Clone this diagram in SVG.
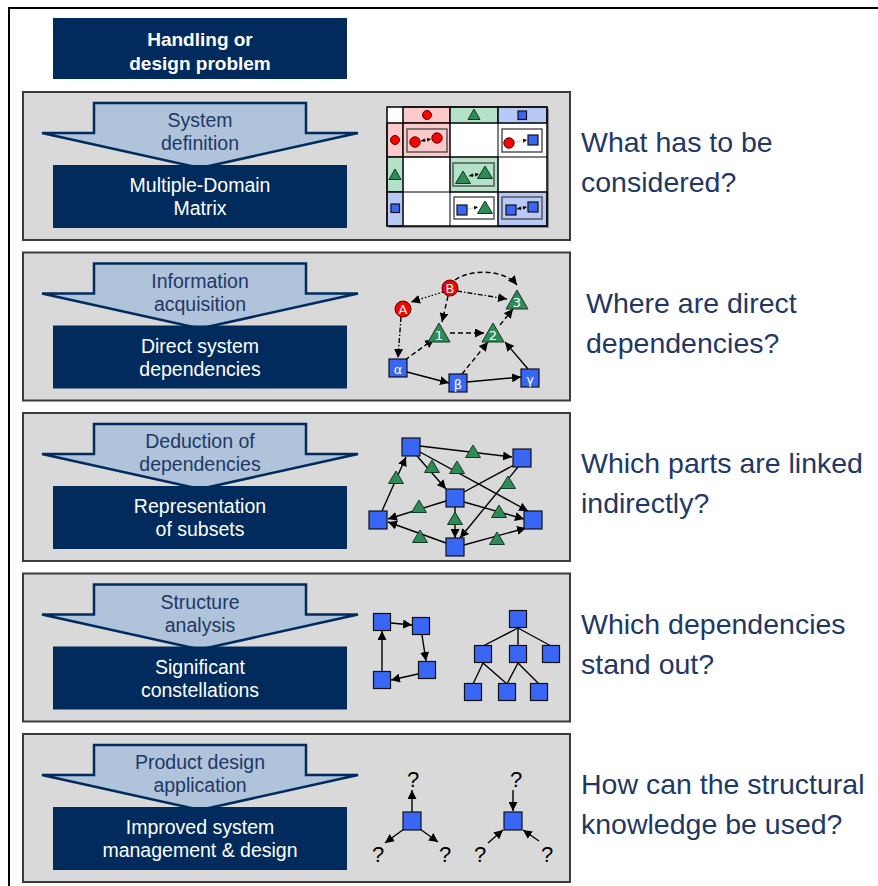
<svg xmlns="http://www.w3.org/2000/svg" width="878" height="886" viewBox="0 0 878 886">
  <style>
    .panel { fill: #d9d9d9; stroke: #3c3c3c; stroke-width: 2; }
    .flow { fill: #afc3db; stroke: #002b5c; stroke-width: 2.5; stroke-linejoin: miter; }
    .box { fill: #002b5c; }
    .lbl { font-family: "Liberation Sans", Arial, sans-serif; font-size: 19.5px; text-anchor: middle; }
    .step { fill: #1f3864; }
    .res { fill: #ffffff; }
    .head { font-weight: bold; font-size: 19px; fill: #ffffff; }
    .q { font-family: "Liberation Sans", Arial, sans-serif; font-size: 28.5px; fill: #1f3864; }
    .red { fill: #ff0000; stroke: #5a0000; stroke-width: 1; }
    .grn { fill: #2e8b57; stroke: #123a22; stroke-width: 1; }
    .blu { fill: #3a66f5; stroke: #111111; stroke-width: 1.2; }
    .ntx { font-family: "DejaVu Sans", "Liberation Sans", sans-serif; font-size: 13px; fill: #ffffff; text-anchor: middle; }
    .e { fill: none; stroke: #000000; stroke-width: 1.4; }
    .arr { marker-end: url(#ah); }
    .dash { stroke-dasharray: 5 3; }
    .dot { stroke-dasharray: 1.5 2; }
    .dd { stroke-dasharray: 5 2 1.5 2; }
    .cell { stroke: #000000; stroke-width: 1; }
    .inner { stroke: #555555; stroke-width: 1.5; }
    .qm { font-family: "Liberation Sans", Arial, sans-serif; font-size: 22px; fill: #000000; text-anchor: middle; }
  </style>
  <defs>
    <marker id="ah" viewBox="0 0 10 10" refX="10" refY="5" markerWidth="9" markerHeight="9" markerUnits="userSpaceOnUse" orient="auto">
      <path d="M0,0 L10,5 L0,10 Z" fill="#000000"/>
    </marker>
    <marker id="ahs" viewBox="0 0 10 10" refX="10" refY="5" markerWidth="4" markerHeight="4" markerUnits="userSpaceOnUse" orient="auto-start-reverse">
      <path d="M0,0 L10,5 L0,10 Z" fill="#000000"/>
    </marker>
    <path id="tri" d="M0,-11 L11,8 L-11,8 Z"/>
    <path id="tris" d="M0,-7 L7.5,5.5 L-7.5,5.5 Z"/>
    <path id="trim" d="M0,-6 L6,4.5 L-6,4.5 Z"/>
  </defs>

  <rect width="878" height="886" fill="#ffffff"/>
  <!-- outer frame -->
  <path d="M9,886 V8 H878" fill="none" stroke="#000000" stroke-width="2"/>

  <!-- top problem box -->
  <g id="problem">
    <rect class="box" x="53" y="18" width="294" height="61"/>
    <text class="lbl head" x="200" y="46">Handling or</text>
    <text class="lbl head" x="200" y="70">design problem</text>
  </g>

  <!-- step 1 -->
  <g id="step1">
    <rect class="panel" x="23" y="92" width="547" height="148"/>
    <path class="flow" d="M94,103 H306 V133 H358 L200,168 L42,133 H94 Z"/>
    <text class="lbl step" x="200" y="127">System</text>
    <text class="lbl step" x="200" y="150">definition</text>
    <rect class="box" x="53" y="165" width="294" height="63"/>
    <text class="lbl res" x="200" y="192">Multiple-Domain</text>
    <text class="lbl res" x="200" y="215">Matrix</text>
    <text class="q" x="581" y="152">What has to be</text>
    <text class="q" x="581" y="192">considered?</text>
  </g>

  <!-- step 2 -->
  <g id="step2" transform="translate(0,160.5)">
    <rect class="panel" x="23" y="92" width="547" height="148"/>
    <path class="flow" d="M94,103 H306 V133 H358 L200,168 L42,133 H94 Z"/>
    <text class="lbl step" x="200" y="127">Information</text>
    <text class="lbl step" x="200" y="150">acquisition</text>
    <rect class="box" x="53" y="165" width="294" height="63"/>
    <text class="lbl res" x="200" y="192">Direct system</text>
    <text class="lbl res" x="200" y="215">dependencies</text>
    <text class="q" x="586" y="152">Where are direct</text>
    <text class="q" x="586" y="192">dependencies?</text>
  </g>

  <!-- step 3 -->
  <g id="step3" transform="translate(0,321)">
    <rect class="panel" x="23" y="92" width="547" height="148"/>
    <path class="flow" d="M94,103 H306 V133 H358 L200,168 L42,133 H94 Z"/>
    <text class="lbl step" x="200" y="127">Deduction of</text>
    <text class="lbl step" x="200" y="150">dependencies</text>
    <rect class="box" x="53" y="165" width="294" height="63"/>
    <text class="lbl res" x="200" y="192">Representation</text>
    <text class="lbl res" x="200" y="215">of subsets</text>
    <text class="q" x="581" y="152">Which parts are linked</text>
    <text class="q" x="581" y="192">indirectly?</text>
  </g>

  <!-- step 4 -->
  <g id="step4" transform="translate(0,481.5)">
    <rect class="panel" x="23" y="92" width="547" height="148"/>
    <path class="flow" d="M94,103 H306 V133 H358 L200,168 L42,133 H94 Z"/>
    <text class="lbl step" x="200" y="127">Structure</text>
    <text class="lbl step" x="200" y="150">analysis</text>
    <rect class="box" x="53" y="165" width="294" height="63"/>
    <text class="lbl res" x="200" y="192">Significant</text>
    <text class="lbl res" x="200" y="215">constellations</text>
    <text class="q" x="581" y="152">Which dependencies</text>
    <text class="q" x="581" y="192">stand out?</text>
  </g>

  <!-- step 5 -->
  <g id="step5" transform="translate(0,642)">
    <rect class="panel" x="23" y="92" width="547" height="148"/>
    <path class="flow" d="M94,103 H306 V133 H358 L200,168 L42,133 H94 Z"/>
    <text class="lbl step" x="200" y="127">Product design</text>
    <text class="lbl step" x="200" y="150">application</text>
    <rect class="box" x="53" y="165" width="294" height="63"/>
    <text class="lbl res" x="200" y="192">Improved system</text>
    <text class="lbl res" x="200" y="215">management &amp; design</text>
    <text class="q" x="581" y="152">How can the structural</text>
    <text class="q" x="581" y="192">knowledge be used?</text>
  </g>

  <!-- multiple-domain matrix -->
  <g id="mdm">
    <rect x="389" y="109" width="160" height="119" fill="#8c8c8c"/>
    <rect x="387" y="107" width="160" height="119" fill="#ffffff"/>
    <rect class="cell" x="403" y="107" width="47" height="16" fill="#fccaca"/>
    <rect class="cell" x="450" y="107" width="48" height="16" fill="#b4e2c9"/>
    <rect class="cell" x="498" y="107" width="49" height="16" fill="#b9c9f7"/>
    <rect class="cell" x="387" y="123" width="16" height="34" fill="#fccaca"/>
    <rect class="cell" x="387" y="157" width="16" height="35" fill="#b4e2c9"/>
    <rect class="cell" x="387" y="192" width="16" height="34" fill="#b9c9f7"/>
    <rect class="cell" x="403" y="123" width="47" height="34" fill="#fccaca"/>
    <rect class="cell" x="450" y="157" width="48" height="35" fill="#b4e2c9"/>
    <rect class="cell" x="498" y="192" width="49" height="34" fill="#b9c9f7"/>
    <rect x="387" y="107" width="160" height="119" fill="none" stroke="#000000" stroke-width="1.5"/>
    <path d="M387,123 H547 M387,157 H547 M387,192 H547 M403,107 V226 M450,107 V226 M498,107 V226" stroke="#000000" stroke-width="1" fill="none"/>
    <!-- headers -->
    <circle class="red" cx="427" cy="115" r="4.5"/>
    <use href="#trim" x="474" y="115" class="grn"/>
    <rect class="blu" x="518" y="111" width="8.5" height="8.5"/>
    <circle class="red" cx="395" cy="140" r="4.5"/>
    <use href="#trim" x="395" y="175" class="grn"/>
    <rect class="blu" x="391" y="204" width="8.5" height="8.5"/>
    <!-- diagonal and cross cells -->
    <rect class="inner" x="407" y="129" width="40" height="23" fill="#fccaca"/>
    <circle class="red" cx="415" cy="142" r="5.2"/>
    <circle class="red" cx="437" cy="138" r="5.2"/>
    <line x1="421" y1="141" x2="431" y2="139" stroke="#000" stroke-width="0.8" stroke-dasharray="1 1" marker-start="url(#ahs)" marker-end="url(#ahs)"/>
    <rect class="inner" x="502" y="129" width="40" height="23" fill="#ffffff"/>
    <circle class="red" cx="509" cy="143" r="5.2"/>
    <rect class="blu" x="528" y="135" width="10" height="10"/>
    <line x1="515" y1="142" x2="527" y2="140" stroke="#888" stroke-width="0.8" stroke-dasharray="1 1" marker-end="url(#ahs)"/>
    <rect class="inner" x="453" y="163" width="41" height="23" fill="#b4e2c9"/>
    <use href="#tris" x="463" y="178" class="grn"/>
    <use href="#tris" x="485" y="173" class="grn"/>
    <line x1="469" y1="176" x2="479" y2="174" stroke="#000" stroke-width="0.8" stroke-dasharray="1 1" marker-start="url(#ahs)" marker-end="url(#ahs)"/>
    <rect class="inner" x="454" y="197" width="40" height="22" fill="#ffffff"/>
    <rect class="blu" x="457" y="205" width="10" height="10"/>
    <use href="#tris" x="485" y="208" class="grn"/>
    <line x1="468" y1="209" x2="478" y2="207" stroke="#888" stroke-width="0.8" stroke-dasharray="1 1" marker-end="url(#ahs)"/>
    <rect class="inner" x="502" y="197" width="40" height="22" fill="#b9c9f7"/>
    <rect class="blu" x="506" y="205" width="10" height="10"/>
    <rect class="blu" x="528" y="202" width="10" height="10"/>
    <line x1="517" y1="209" x2="527" y2="207" stroke="#000" stroke-width="0.8" stroke-dasharray="1 1" marker-start="url(#ahs)" marker-end="url(#ahs)"/>
  </g>

  <!-- direct dependency graph -->
  <g id="direct-connectors">
    <path class="e dash arr" d="M455,280 C472,268 505,270 517,285"/>
    <line class="e dd arr" x1="457" y1="291" x2="507" y2="299"/>
    <line class="e dot arr" x1="443" y1="292" x2="411" y2="302"/>
    <line class="e dash arr" x1="448" y1="296" x2="442" y2="322"/>
    <line class="e dd arr" x1="401" y1="317" x2="398" y2="358"/>
    <line class="e dash arr" x1="405" y1="360" x2="434" y2="339"/>
    <line class="e dash arr" x1="450" y1="333" x2="484" y2="333"/>
    <line class="e dash arr" x1="500" y1="325" x2="513" y2="309"/>
    <line class="e arr" x1="407" y1="372" x2="449" y2="383"/>
    <line class="e dash arr" x1="462" y1="374" x2="488" y2="342"/>
    <line class="e arr" x1="467" y1="382" x2="521" y2="377"/>
    <line class="e arr" x1="528" y1="369" x2="505" y2="342"/>
  </g>
  <g id="node-A"><circle class="red" cx="403" cy="309" r="8"/><text class="ntx" x="403" y="314">A</text></g>
  <g id="node-B"><circle class="red" cx="450" cy="288" r="8"/><text class="ntx" x="450" y="293">B</text></g>
  <g id="node-1"><use href="#tri" x="439" y="334" class="grn"/><text class="ntx" x="439" y="340" font-size="11">1</text></g>
  <g id="node-2"><use href="#tri" x="493" y="334" class="grn"/><text class="ntx" x="493" y="340" font-size="11">2</text></g>
  <g id="node-3"><use href="#tri" x="517" y="301" class="grn"/><text class="ntx" x="517" y="307" font-size="11">3</text></g>
  <g id="node-alpha"><rect class="blu" x="389" y="359" width="18" height="18"/><text class="ntx" x="398" y="373.5" font-size="15">α</text></g>
  <g id="node-beta"><rect class="blu" x="449" y="374" width="18" height="18"/><text class="ntx" x="458" y="388.5" font-size="15">β</text></g>
  <g id="node-gamma"><rect class="blu" x="521" y="369" width="18" height="18"/><text class="ntx" x="530" y="383.5" font-size="15">γ</text></g>

  <!-- subset graph -->
  <g id="subset-connectors">
    <line class="e arr" x1="420" y1="446" x2="512" y2="457"/>
    <line class="e arr" x1="417" y1="456" x2="446" y2="489"/>
    <line class="e arr" x1="420" y1="452" x2="528" y2="511"/>
    <line class="e arr" x1="382" y1="511" x2="406" y2="457"/>
    <line class="e" x1="514" y1="465" x2="464" y2="492"/>
    <line class="e arr" x1="518" y1="467" x2="460" y2="538"/>
    <line class="e arr" x1="446" y1="501" x2="388" y2="519"/>
    <line class="e arr" x1="464" y1="502" x2="524" y2="519"/>
    <line class="e arr" x1="455" y1="507" x2="455" y2="538"/>
    <line class="e arr" x1="446" y1="543" x2="388" y2="522"/>
    <line class="e arr" x1="464" y1="545" x2="526" y2="528"/>
  </g>
  <g id="subset-links">
    <use href="#tris" x="473" y="452" class="grn"/>
    <use href="#tris" x="432" y="467" class="grn"/>
    <use href="#tris" x="457" y="468" class="grn"/>
    <use href="#tris" x="396" y="478" class="grn"/>
    <use href="#tris" x="508" y="483" class="grn"/>
    <use href="#tris" x="419" y="507" class="grn"/>
    <use href="#tris" x="499" y="512" class="grn"/>
    <use href="#tris" x="455" y="519" class="grn"/>
    <use href="#tris" x="420" y="537" class="grn"/>
    <use href="#tris" x="497" y="539" class="grn"/>
  </g>
  <g id="subset-s1"><rect class="blu" x="402" y="438" width="18" height="18"/></g>
  <g id="subset-s2"><rect class="blu" x="513" y="449" width="18" height="18"/></g>
  <g id="subset-s3"><rect class="blu" x="446" y="489" width="18" height="18"/></g>
  <g id="subset-s4"><rect class="blu" x="369" y="511" width="18" height="18"/></g>
  <g id="subset-s5"><rect class="blu" x="524" y="511" width="18" height="18"/></g>
  <g id="subset-s6"><rect class="blu" x="446" y="538" width="18" height="18"/></g>

  <!-- significant constellations: cycle and hierarchy -->
  <g id="constellation-connectors">
    <line class="e arr" x1="391" y1="623" x2="412" y2="625"/>
    <line class="e arr" x1="422" y1="635" x2="426" y2="661"/>
    <line class="e arr" x1="418" y1="674" x2="391" y2="680"/>
    <line class="e arr" x1="382" y1="671" x2="382" y2="631"/>
    <path class="e" d="M518,628 L483,646 M518,628 V646 M518,628 L551,646 M483,663 L473,684 M483,663 L507,684 M518,663 L507,684 M518,663 L539,684"/>
  </g>
  <g id="cycle-1"><rect class="blu" x="373.5" y="613.5" width="17" height="17"/></g>
  <g id="cycle-2"><rect class="blu" x="412.5" y="617.5" width="17" height="17"/></g>
  <g id="cycle-3"><rect class="blu" x="418.5" y="661.5" width="17" height="17"/></g>
  <g id="cycle-4"><rect class="blu" x="373.5" y="671.5" width="17" height="17"/></g>
  <g id="tree-root"><rect class="blu" x="509.5" y="610.5" width="17" height="17"/></g>
  <g id="tree-mid-1"><rect class="blu" x="474.5" y="645.5" width="17" height="17"/></g>
  <g id="tree-mid-2"><rect class="blu" x="509.5" y="645.5" width="17" height="17"/></g>
  <g id="tree-mid-3"><rect class="blu" x="542.5" y="645.5" width="17" height="17"/></g>
  <g id="tree-leaf-1"><rect class="blu" x="464.5" y="683.5" width="17" height="17"/></g>
  <g id="tree-leaf-2"><rect class="blu" x="498.5" y="683.5" width="17" height="17"/></g>
  <g id="tree-leaf-3"><rect class="blu" x="530.5" y="683.5" width="17" height="17"/></g>

  <!-- application: outgoing and incoming influence -->
  <g id="application-connectors">
    <line class="e arr" x1="412" y1="812" x2="412" y2="790"/>
    <line class="e arr" x1="404" y1="829" x2="385" y2="843"/>
    <line class="e arr" x1="420" y1="829" x2="438" y2="842"/>
    <line class="e arr" x1="513" y1="790" x2="513" y2="811"/>
    <line class="e arr" x1="488" y1="843" x2="503" y2="830"/>
    <line class="e arr" x1="539" y1="841" x2="523" y2="830"/>
  </g>
  <g id="out-node"><rect class="blu" x="403" y="812" width="18" height="18"/></g>
  <g id="in-node"><rect class="blu" x="504" y="812" width="18" height="18"/></g>
  <g id="unknowns">
    <text class="qm" x="413" y="787">?</text>
    <text class="qm" x="378" y="862">?</text>
    <text class="qm" x="445" y="862">?</text>
    <text class="qm" x="516" y="787">?</text>
    <text class="qm" x="480" y="862">?</text>
    <text class="qm" x="547" y="862">?</text>
  </g>
</svg>
